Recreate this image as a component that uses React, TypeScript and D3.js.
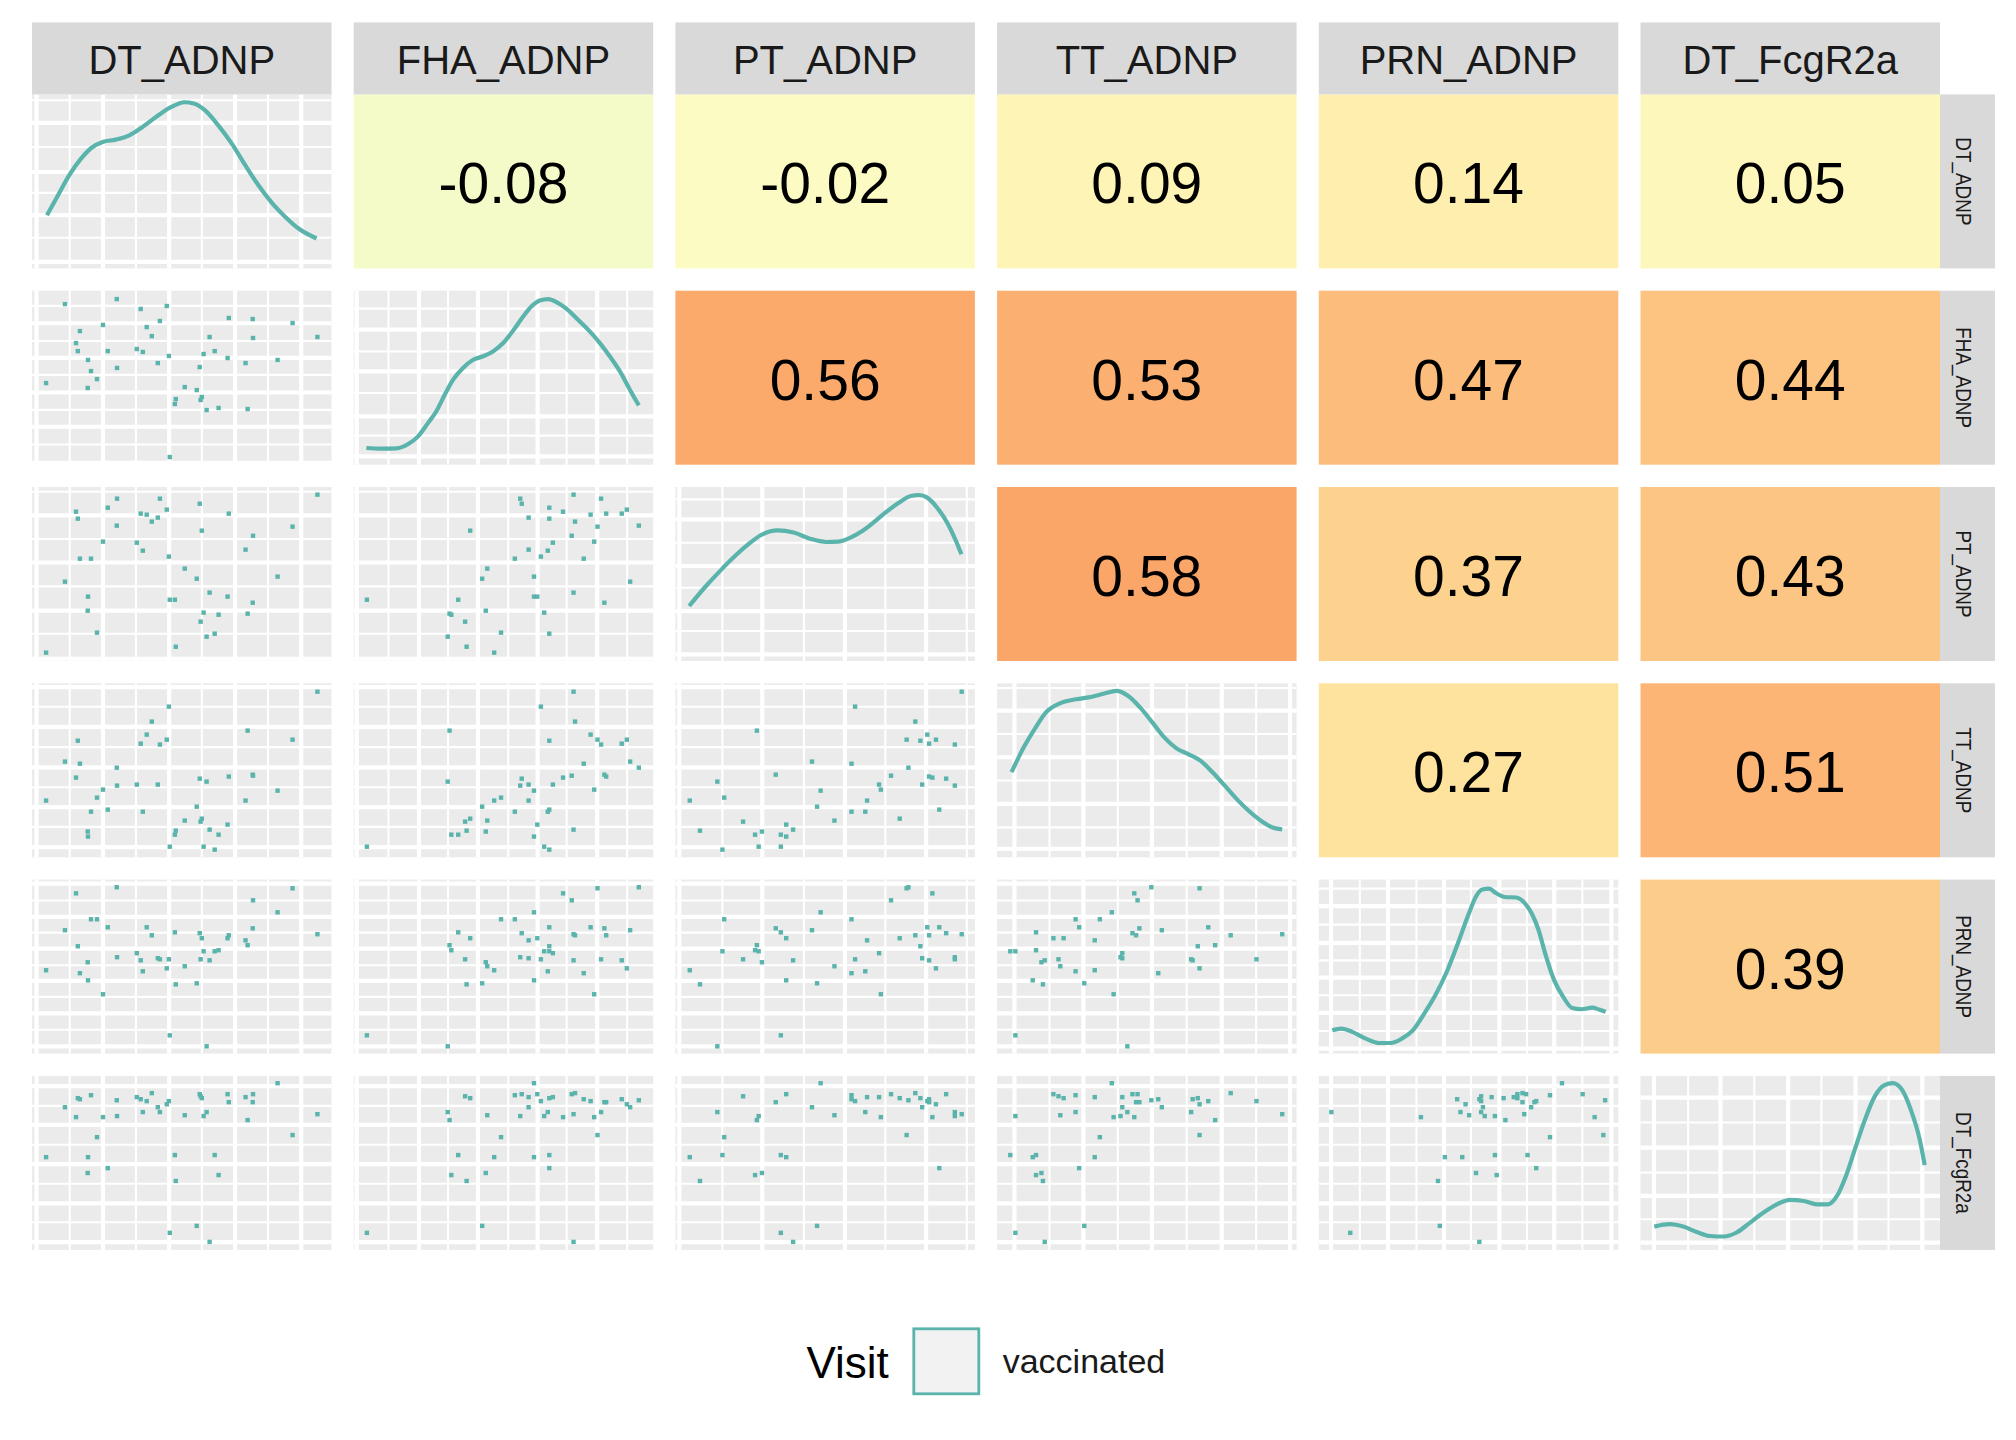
import * as d3 from 'd3';

const variables = ['DT_ADNP', 'FHA_ADNP', 'PT_ADNP', 'TT_ADNP', 'PRN_ADNP', 'DT_FcgR2a'];

// one value per subject (44 subjects), each variable on its own 0-100 panel scale
const dtAdnp = [4.7, 11.0, 14.7, 15.3, 16.0, 18.7, 18.6, 19.7, 21.7, 23.7, 25.3, 28.3, 28.4, 35.0, 36.3, 37.0, 38.3, 40.0, 42.0, 42.7, 45.0, 45.7, 46.0, 47.7, 48.0, 51.0, 55.0, 56.0, 56.3, 56.7, 57.3, 58.3, 59.3, 61.0, 62.3, 65.3, 65.7, 71.3, 72.0, 73.7, 73.8, 82.0, 87.0, 95.3];
const fhaAdnp = [46.9, 92.3, 69.9, 65.3, 76.8, 60.2, 44.1, 53.8, 49.2, 80.3, 65.3, 95.2, 55.6, 66.5, 89.5, 64.8, 79.1, 73.9, 58.4, 82.6, 91.2, 62.5, 4.4, 34.9, 37.7, 44.6, 42.9, 56.1, 37.2, 38.9, 63.6, 31.4, 73.4, 65.3, 32.6, 61.3, 84.3, 58.4, 32.0, 83.7, 72.8, 60.2, 81.4, 73.4];
const ptAdnp = [4.8, 45.6, 85.8, 81.8, 58.8, 37.0, 28.9, 58.8, 16.3, 68.6, 88.1, 77.8, 93.3, 68.0, 84.7, 63.4, 84.1, 80.1, 82.4, 93.3, 87.0, 60.0, 35.2, 35.2, 8.2, 53.1, 47.3, 90.4, 22.6, 74.9, 27.8, 14.0, 39.3, 15.7, 26.6, 37.0, 84.7, 64.0, 27.2, 33.5, 72.0, 48.5, 77.2, 95.6];
const ttAdnp = [32.6, 55.0, 45.8, 67.0, 53.8, 11.9, 14.8, 26.2, 34.3, 38.9, 27.4, 51.5, 41.2, 41.8, 65.3, 26.2, 70.5, 78.0, 41.8, 64.8, 67.6, 86.6, 6.1, 13.0, 15.3, 21.1, 29.1, 45.2, 20.5, 22.2, 6.1, 43.5, 15.9, 4.4, 13.0, 18.8, 46.4, 32.6, 72.8, 47.5, 46.9, 38.3, 67.6, 95.2];
const prnAdnp = [47.9, 70.9, 92.1, 61.7, 46.2, 42.1, 52.5, 77.2, 77.2, 34.1, 72.6, 95.6, 55.4, 57.7, 53.6, 47.3, 72.6, 68.0, 54.8, 54.2, 49.0, 54.2, 10.5, 69.7, 39.8, 50.2, 40.4, 69.2, 54.2, 66.3, 58.8, 4.2, 53.6, 58.8, 59.4, 66.3, 68.0, 65.1, 62.3, 72.0, 88.1, 81.2, 95.0, 68.6];
const dtFcgR2a = [53.3, 82.0, 76.3, 87.2, 86.6, 53.3, 44.2, 88.9, 64.8, 76.3, 47.0, 86.0, 76.9, 87.8, 86.6, 79.2, 85.5, 90.1, 82.0, 79.2, 83.7, 85.5, 9.8, 54.5, 39.6, 77.4, 13.8, 89.5, 88.3, 87.2, 76.9, 79.2, 4.6, 54.5, 43.0, 89.5, 84.9, 87.8, 74.6, 84.9, 89.5, 95.8, 66.0, 78.0];

const series = [dtAdnp, fhaAdnp, ptAdnp, ttAdnp, prnAdnp, dtFcgR2a];

// correlations of the upper triangle, row by row
const corrRows = [
  [-0.08, -0.02, 0.09, 0.14, 0.05],
  [0.56, 0.53, 0.47, 0.44],
  [0.58, 0.37, 0.43],
  [0.27, 0.51],
  [0.39],
];

// grid breaks along each variable's axis (major, minor, major, ...)
const gridBreaks = [
  [1.5, 12.6, 23.7, 34.7, 45.8, 56.7, 67.8, 78.8, 89.9],
  [1.0, 11.6, 21.8, 31.5, 41.5, 51.6, 61.4, 71.1, 81.3, 91.3],
  [1.3, 15.7, 29.0, 42.9, 56.6, 70.1, 83.7, 97.3],
  [5.8, 17.5, 28.8, 40.3, 51.7, 63.3, 75.0, 86.5, 97.8],
  [4.1, 13.7, 23.1, 32.6, 41.8, 50.8, 60.3, 69.5, 78.6, 88.0, 97.7],
  [4.5, 15.9, 26.7, 38.0, 49.3, 60.4, 71.8, 82.8, 94.1],
];

// grid breaks on the density axis of the diagonal panels
const densityBreaks = [
  [3.8, 17.6, 30.6, 43.4, 55.4, 69.8, 83.6, 96.6],
  [4.8, 16.7, 27.8, 41.2, 53.6, 65.1, 77.6, 89.7],
  [3.8, 17.2, 28.7, 42.1, 54.6, 68.0, 81.4, 92.9],
  [4.8, 17.2, 30.7, 44.1, 57.5, 70.9, 84.3, 97.3],
  [2.9, 13.0, 23.4, 33.5, 43.7, 53.6, 63.6, 74.1, 84.7, 94.8],
  [4.2, 17.6, 31.0, 44.4, 58.8, 73.2, 87.5],
];

// density curves, [value, density]
const densDtAdnp: [number, number][] = [[5.0, 30.6], [8.7, 42.1], [12.4, 53.5], [16.1, 62.5], [19.8, 69.2], [23.6, 72.7], [28.0, 74.0], [32.5, 76.5], [36.9, 81.3], [41.4, 87.0], [45.9, 92.2], [51.0, 95.5], [54.0, 94.8], [57.8, 90.8], [62.2, 82.2], [66.7, 71.7], [71.2, 59.3], [75.6, 47.8], [80.1, 37.7], [84.6, 29.6], [89.0, 22.9], [95.0, 17.2]];
const densFhaAdnp: [number, number][] = [[4.2, 9.6], [9.2, 9.2], [14.3, 9.4], [18.2, 11.9], [21.5, 16.3], [24.8, 23.9], [27.6, 30.7], [30.4, 40.2], [33.2, 48.9], [36.5, 55.6], [39.9, 60.3], [43.2, 62.3], [46.5, 65.1], [49.9, 69.9], [53.2, 77.0], [56.6, 85.2], [59.4, 91.0], [62.1, 94.4], [64.9, 95.2], [67.7, 93.5], [71.0, 89.7], [74.9, 83.3], [78.8, 76.6], [82.2, 69.9], [85.5, 62.3], [88.9, 53.6], [92.2, 43.1], [95.2, 34.1]];
const densPtAdnp: [number, number][] = [[4.6, 31.6], [9.7, 42.1], [15.1, 52.1], [19.9, 60.3], [24.6, 67.4], [28.6, 72.4], [34.1, 75.1], [39.5, 73.8], [44.9, 70.3], [50.3, 68.4], [54.3, 68.6], [58.4, 70.9], [62.4, 74.7], [66.5, 80.1], [70.5, 85.8], [74.6, 91.0], [78.6, 94.8], [81.4, 95.4], [84.1, 93.9], [87.4, 88.1], [90.8, 79.3], [93.5, 69.7], [95.5, 61.3]];
const densTtAdnp: [number, number][] = [[4.8, 48.9], [8.9, 63.2], [12.9, 74.7], [16.3, 83.3], [21.0, 88.5], [26.3, 90.8], [31.7, 92.3], [35.8, 94.1], [39.8, 95.6], [43.8, 92.7], [47.8, 86.0], [51.9, 77.4], [55.9, 68.8], [59.9, 62.6], [64.0, 59.2], [68.0, 55.4], [72.0, 48.7], [76.1, 41.0], [80.1, 33.3], [84.1, 26.6], [88.2, 20.9], [92.2, 17.0], [95.2, 16.1]];
const densPrnAdnp: [number, number][] = [[4.5, 13.4], [7.5, 14.4], [11.2, 12.5], [15.7, 8.6], [20.2, 6.1], [24.0, 6.1], [27.7, 8.6], [31.4, 13.4], [35.2, 23.0], [38.9, 33.5], [42.7, 46.9], [46.4, 63.2], [50.1, 80.5], [52.4, 90.0], [54.6, 94.3], [56.9, 94.8], [59.1, 92.3], [62.1, 90.0], [65.9, 89.7], [68.9, 86.2], [71.1, 80.5], [73.4, 70.9], [75.6, 57.5], [78.6, 42.1], [81.6, 32.6], [84.6, 26.2], [87.6, 25.5], [91.3, 26.4], [93.6, 25.3], [95.8, 24.0]];
const densDtFcgR2a: [number, number][] = [[4.6, 13.4], [9.8, 14.8], [14.3, 13.4], [18.8, 10.3], [23.2, 8.0], [27.7, 7.7], [32.1, 10.0], [36.6, 15.7], [41.1, 21.5], [45.5, 26.2], [50.0, 28.7], [54.5, 28.1], [58.9, 26.2], [62.6, 26.2], [65.6, 31.0], [68.6, 42.5], [71.6, 57.9], [74.6, 73.2], [78.3, 88.5], [81.3, 94.6], [84.2, 95.8], [87.2, 92.3], [90.2, 80.8], [93.2, 63.6], [94.9, 48.7]];

const densities = [densDtAdnp, densFhaAdnp, densPtAdnp, densTtAdnp, densPrnAdnp, densDtFcgR2a];

const legendTitle = 'Visit';
const legendLabel = 'vaccinated';

// layout
const WIDTH = 2016;
const HEIGHT = 1440;
const LEFT = 32;
const TOP = 94.4;
const PANEL_W = 299.5;
const PANEL_H = 174;
const STEP_X = 321.7;
const STEP_Y = 196.3;
const STRIP_H = 72;
const STRIP_W = 55;
const TEAL = '#5AB4AC';
const FONT = '"Liberation Sans", Arial, Helvetica, sans-serif';

const corrColor = d3
  .scaleLinear<string>()
  .domain([-0.1, 0, 0.3, 0.6])
  .range(['#F3F9CB', '#FEFCC2', '#FDE09A', '#FBA265']);

const xScale = (j: number) =>
  d3.scaleLinear().domain([0, 100]).range([LEFT + j * STEP_X, LEFT + j * STEP_X + PANEL_W]);
const yScale = (i: number) =>
  d3.scaleLinear().domain([0, 100]).range([TOP + i * STEP_Y + PANEL_H, TOP + i * STEP_Y]);

function Grid({ i, j, hBreaks }: { i: number; j: number; hBreaks: number[] }) {
  const x = xScale(j);
  const y = yScale(i);
  const [x0, x1] = x.range();
  const [y1, y0] = y.range();
  const lines = (major: boolean) => (
    <g stroke="#FFFFFF" strokeWidth={major ? 4.2 : 2.1}>
      {gridBreaks[j]
        .filter((_, k) => (k % 2 === 0) === major)
        .map((b) => (
          <line key={`v${b}`} x1={x(b)} x2={x(b)} y1={y0} y2={y1} />
        ))}
      {hBreaks
        .filter((_, k) => (k % 2 === 0) === major)
        .map((b) => (
          <line key={`h${b}`} x1={x0} x2={x1} y1={y(b)} y2={y(b)} />
        ))}
    </g>
  );
  return (
    <g>
      <rect x={x0} y={y0} width={x1 - x0} height={y1 - y0} fill="#EBEBEB" />
      {lines(false)}
      {lines(true)}
    </g>
  );
}

function Panel({ i, j }: { i: number; j: number }) {
  const x = xScale(j);
  const y = yScale(i);
  if (j > i) {
    const r = corrRows[i][j - i - 1];
    const [x0, x1] = x.range();
    const [y1, y0] = y.range();
    return (
      <g>
        <rect x={x0} y={y0} width={x1 - x0} height={y1 - y0} fill={corrColor(r)} />
        <text
          x={(x0 + x1) / 2}
          y={(y0 + y1) / 2 + 22}
          textAnchor="middle"
          fontSize={57}
          fontFamily={FONT}
          fill="#000000"
        >
          {r.toFixed(2)}
        </text>
      </g>
    );
  }
  if (i === j) {
    const line = d3
      .line<[number, number]>()
      .x((d) => x(d[0]))
      .y((d) => y(d[1]))
      .curve(d3.curveMonotoneX);
    return (
      <g>
        <Grid i={i} j={j} hBreaks={densityBreaks[i]} />
        <path d={line(densities[i]) ?? ''} fill="none" stroke={TEAL} strokeWidth={4.2} />
      </g>
    );
  }
  const xs = series[j];
  const ys = series[i];
  return (
    <g>
      <Grid i={i} j={j} hBreaks={gridBreaks[i]} />
      <g fill={TEAL}>
        {xs.map((v, k) => (
          <rect key={k} x={x(v) - 2.2} y={y(ys[k]) - 2.2} width={4.4} height={4.4} />
        ))}
      </g>
    </g>
  );
}

export default function App() {
  const n = variables.length;
  const cells: [number, number][] = [];
  for (let i = 0; i < n; i++) for (let j = 0; j < n; j++) cells.push([i, j]);
  const stripX = LEFT + (n - 1) * STEP_X + PANEL_W;

  return (
    <svg
      width={WIDTH}
      height={HEIGHT}
      style={{ position: 'absolute', left: 0, top: 0, background: '#FFFFFF' }}
    >
      <rect width={WIDTH} height={HEIGHT} fill="#FFFFFF" />
      {cells.map(([i, j]) => (
        <Panel key={`${i}-${j}`} i={i} j={j} />
      ))}

      {/* top strips */}
      {variables.map((v, j) => {
        const [x0, x1] = xScale(j).range();
        return (
          <g key={`ts${v}`}>
            <rect x={x0} y={TOP - STRIP_H} width={x1 - x0} height={STRIP_H} fill="#D9D9D9" />
            <text
              x={(x0 + x1) / 2}
              y={TOP - STRIP_H + 51.6}
              textAnchor="middle"
              fontSize={40}
              fontFamily={FONT}
              fill="#1A1A1A"
            >
              {v}
            </text>
          </g>
        );
      })}

      {/* right strips */}
      {variables.map((v, i) => {
        const [y1, y0] = yScale(i).range();
        const cx = stripX + STRIP_W / 2 - 3;
        const cy = (y0 + y1) / 2;
        return (
          <g key={`rs${v}`}>
            <rect x={stripX} y={y0} width={STRIP_W} height={y1 - y0} fill="#D9D9D9" />
            <text
              transform={`translate(${cx},${cy}) rotate(90) scale(0.84,1)`}
              y={8}
              textAnchor="middle"
              fontSize={22.5}
              fontFamily={FONT}
              fill="#1A1A1A"
            >
              {v}
            </text>
          </g>
        );
      })}

      {/* legend */}
      <text x={806.5} y={1378.3} fontSize={44} fontFamily={FONT} fill="#000000">
        {legendTitle}
      </text>
      <rect
        x={913.8}
        y={1328.8}
        width={65}
        height={65}
        fill="#F2F2F2"
        stroke={TEAL}
        strokeWidth={2.8}
      />
      <text x={1002.7} y={1373.3} fontSize={34} fontFamily={FONT} fill="#1A1A1A">
        {legendLabel}
      </text>
    </svg>
  );
}
